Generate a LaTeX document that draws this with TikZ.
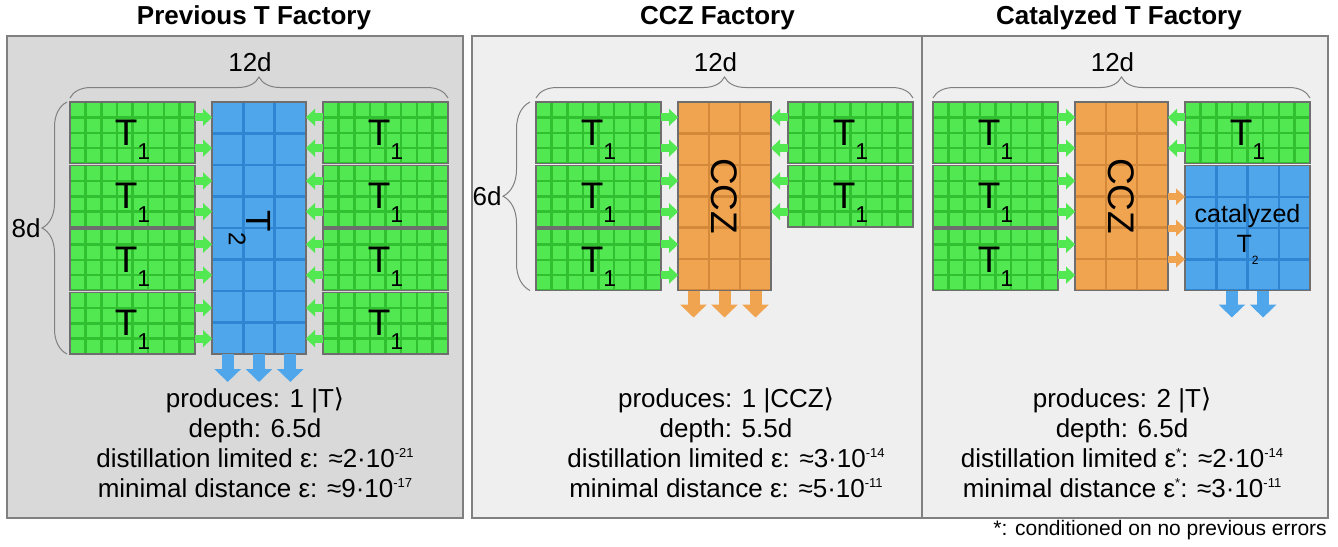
\documentclass[tikz,border=0pt]{standalone}
\usepackage{fontspec}
\setmainfont{Liberation Sans}
\newfontfamily\symf{DejaVu Sans}
\usetikzlibrary{positioning,calc,matrix,arrows.meta,decorations.pathreplacing}

\definecolor{tgreen}{RGB}{82,232,82}
\definecolor{tgreenline}{RGB}{48,192,48}
\definecolor{tblue}{RGB}{80,166,234}
\definecolor{tblueline}{RGB}{46,134,210}
\definecolor{torange}{RGB}{240,164,80}
\definecolor{torangeline}{RGB}{212,136,58}
\definecolor{edge}{RGB}{110,110,110}
\definecolor{panelone}{RGB}{217,217,217}
\definecolor{paneltwo}{RGB}{239,239,239}
\definecolor{frame}{RGB}{128,128,128}

\newcommand{\Tone}{T\smash{\raisebox{-14pt}{\fontsize{23}{23}\selectfont 1}}}
\newcommand{\Ttwo}{T\smash{\raisebox{-18pt}{\fontsize{24}{24}\selectfont 2}}}
\newcommand{\Tcat}{T\smash{\raisebox{-12pt}{\fontsize{12}{12}\selectfont 2}}}
\newcommand{\sups}[1]{\raisebox{10pt}{\fontsize{13}{13}\selectfont #1}}

\begin{document}
\begin{tikzpicture}[x=1pt, y=-1pt]
  % Settings
  \tikzset{
    tilegrid/.style n args={3}{path picture={
      \foreach \i in {1,...,#1}
        \draw[#3, line width=2.5pt] ($(path picture bounding box.north west)!\i/#1!(path picture bounding box.north east)$) -- ($(path picture bounding box.south west)!\i/#1!(path picture bounding box.south east)$);
      \foreach \j in {1,...,#2}
        \draw[#3, line width=2.5pt] ($(path picture bounding box.north west)!\j/#2!(path picture bounding box.south west)$) -- ($(path picture bounding box.north east)!\j/#2!(path picture bounding box.south east)$);
    }},
    blk/.style={draw=edge, line width=1.5pt, inner sep=0, outer sep=0},
    tone/.style={blk, fill=tgreen, minimum width=125pt, minimum height=61.5pt, tilegrid={8}{4}{tgreenline}, font=\fontsize{37}{37}\selectfont},
    ttwo/.style={blk, fill=tblue, minimum width=94pt, minimum height=252pt, tilegrid={3}{8}{tblueline}, font=\fontsize{35}{35}\selectfont},
    ccz/.style={blk, fill=torange, minimum width=93pt, minimum height=188.5pt, tilegrid={3}{6}{torangeline}, font=\fontsize{37}{37}\selectfont},
    tcat/.style={blk, fill=tblue, minimum width=125pt, minimum height=125pt, tilegrid={4}{4}{tblueline}, font=\fontsize{25}{30}\selectfont, align=center},
    panel/.style={draw=frame, line width=1.5pt, inner sep=0, outer sep=0, minimum height=482pt},
    brc/.style={draw=frame, line width=1pt, decorate, decoration={brace, amplitude=#1}},
    dimlbl/.style={font=\fontsize{26}{26}\selectfont, inner sep=0},
    ttl/.style={font=\fontsize{26}{26}\selectfont\bfseries, inner sep=0, anchor=base},
    stats/.style={matrix of nodes, inner sep=0, row sep=5pt, anchor=north, nodes={font=\fontsize{26}{26}\selectfont, inner sep=0, text height=19pt, text depth=6pt}},
    garrow/.style={draw=tgreen, line width=8pt, -{Triangle[length=9pt, width=17pt]}},
    oarrow/.style={draw=torange, line width=7pt, -{Triangle[length=9pt, width=16pt]}},
    darrow/.style={line width=12pt, -{Triangle[length=13pt, width=26pt]}},
  }
  \useasboundingbox (0,0) rectangle (1338,546);
  % Panels and titles
  \node[panel, fill=panelone, minimum width=456pt] (prev) at (235,277) {};
  \node[panel, fill=paneltwo, minimum width=450pt] (cczp) at (697,277) {};
  \node[panel, fill=paneltwo, minimum width=406pt] (catp) at (1125,277) {};
  \node[ttl] (prevttl) at (254,24) {Previous T Factory};
  \node[ttl] (cczttl) at (717.5,24) {CCZ Factory};
  \node[ttl] (catttl) at (1119,24) {Catalyzed T Factory};

  % Previous T factory
  \node[tone] (pl1) at (132.5,132.75) {\Tone};
  \node[tone, below=2pt of pl1] (pl2) {\Tone};
  \node[tone, below=2pt of pl2] (pl3) {\Tone};
  \node[tone, below=2pt of pl3] (pl4) {\Tone};
  \node[ttwo, right=17pt of pl1.north east, anchor=north west] (pt2) {\rotatebox{-90}{\Ttwo}};
  \node[tone, right=17pt of pt2.north east, anchor=north west] (pr1) {\Tone};
  \node[tone, below=2pt of pr1] (pr2) {\Tone};
  \node[tone, below=2pt of pr2] (pr3) {\Tone};
  \node[tone, below=2pt of pr3] (pr4) {\Tone};
  \foreach \b in {pl1,pl2,pl3,pl4}
    \foreach \f in {0.25,0.75} {
      \path ($(\b.north east)!\f!(\b.south east)$) coordinate (s);
      \draw[garrow] (s) -- (s -| pt2.west);
    }
  \foreach \b in {pr1,pr2,pr3,pr4}
    \foreach \f in {0.25,0.75} {
      \path ($(\b.north west)!\f!(\b.south west)$) coordinate (s);
      \draw[garrow] (s) -- (s -| pt2.east);
    }
  \foreach \f in {1/6,1/2,5/6} {
    \path ($(pt2.south west)!\f!(pt2.south east)$) coordinate (s);
    \draw[darrow, draw=tblue] (s) -- ++(0,28) coordinate (e);
  }
  \draw[brc=21pt] ([yshift=4pt]pl1.north west) -- node[dimlbl, above=26pt, xshift=-9pt] (pw) {12d} ([yshift=4pt]pr1.north east);
  \draw[brc=25pt] ([xshift=-3pt]pl4.south west) -- node[dimlbl, left=26pt] (ph) {8d} ([xshift=-3pt]pl1.north west);
  \matrix (ps) [stats] at (255,388) {
    produces: 1 |T{\symf ⟩}\\
    depth: 6.5d\\
    distillation limited ε: ≈2·10\sups{-21}\\
    minimal distance ε: ≈9·10\sups{-17}\\
  };

  % CCZ factory
  \node[tone] (cl1) at (598.5,132.75) {\Tone};
  \node[tone, below=2pt of cl1] (cl2) {\Tone};
  \node[tone, below=2pt of cl2] (cl3) {\Tone};
  \node[ccz, right=17pt of cl1.north east, anchor=north west] (cz) {\rotatebox{-90}{CCZ}};
  \node[tone, right=17pt of cz.north east, anchor=north west] (cr1) {\Tone};
  \node[tone, below=2pt of cr1] (cr2) {\Tone};
  \foreach \b in {cl1,cl2,cl3}
    \foreach \f in {0.25,0.75} {
      \path ($(\b.north east)!\f!(\b.south east)$) coordinate (s);
      \draw[garrow] (s) -- (s -| cz.west);
    }
  \foreach \b in {cr1,cr2}
    \foreach \f in {0.25,0.75} {
      \path ($(\b.north west)!\f!(\b.south west)$) coordinate (s);
      \draw[garrow] (s) -- (s -| cz.east);
    }
  \foreach \f in {1/6,1/2,5/6} {
    \path ($(cz.south west)!\f!(cz.south east)$) coordinate (s);
    \draw[darrow, draw=torange] (s) -- ++(0,27) coordinate (e);
  }
  \draw[brc=21pt] ([yshift=4pt]cl1.north west) -- node[dimlbl, above=26pt, xshift=-9pt] (cw) {12d} ([yshift=4pt]cr1.north east);
  \draw[brc=27pt] ([xshift=-6pt]cl3.south west) -- node[dimlbl, left=28pt] (ch) {6d} ([xshift=-6pt]cl1.north west);
  \matrix (cs) [stats] at (726,388) {
    produces: 1 |CCZ{\symf ⟩}\\
    depth: 5.5d\\
    distillation limited ε: ≈3·10\sups{-14}\\
    minimal distance ε: ≈5·10\sups{-11}\\
  };

  % Catalyzed T factory
  \node[tone] (kl1) at (995.5,132.75) {\Tone};
  \node[tone, below=2pt of kl1] (kl2) {\Tone};
  \node[tone, below=2pt of kl2] (kl3) {\Tone};
  \node[ccz, right=17pt of kl1.north east, anchor=north west] (kz) {\rotatebox{-90}{CCZ}};
  \node[tone, right=17pt of kz.north east, anchor=north west] (kr1) {\Tone};
  \node[tcat, below=2pt of kr1] (kt2) {catalyzed\\\Tcat};
  \foreach \b in {kl1,kl2,kl3}
    \foreach \f in {0.25,0.75} {
      \path ($(\b.north east)!\f!(\b.south east)$) coordinate (s);
      \draw[garrow] (s) -- (s -| kz.west);
    }
  \foreach \f in {0.25,0.75} {
    \path ($(kr1.north west)!\f!(kr1.south west)$) coordinate (s);
    \draw[garrow] (s) -- (s -| kz.east);
  }
  \foreach \f in {0.25,0.5,0.75} {
    \path ($(kt2.north west)!\f!(kt2.south west)$) coordinate (s);
    \draw[oarrow] (s -| kz.east) -- (s);
  }
  \foreach \f in {3/8,5/8} {
    \path ($(kt2.south west)!\f!(kt2.south east)$) coordinate (s);
    \draw[darrow, draw=tblue] (s) -- ++(0,27) coordinate (e);
  }
  \draw[brc=21pt] ([yshift=4pt]kl1.north west) -- node[dimlbl, above=26pt, xshift=-9pt] (kw) {12d} ([yshift=4pt]kr1.north east);
  \matrix (ks) [stats] at (1122,388) {
    produces: 2 |T{\symf ⟩}\\
    depth: 6.5d\\
    distillation limited ε\sups{*}: ≈2·10\sups{-14}\\
    minimal distance ε\sups{*}: ≈3·10\sups{-11}\\
  };
  \node[font=\fontsize{21}{21}\selectfont, inner sep=0, anchor=base east] (note) at (1327,535) {*: conditioned on no previous errors};
\end{tikzpicture}
\end{document}
